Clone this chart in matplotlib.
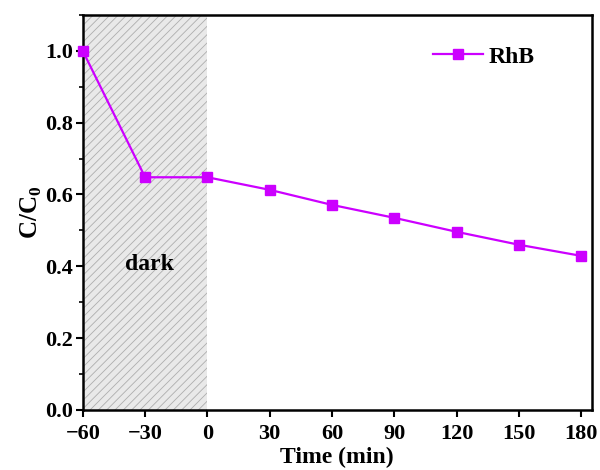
import matplotlib
matplotlib.use("Agg")
import matplotlib.pyplot as plt
from matplotlib.ticker import MultipleLocator

plt.rcParams['font.family'] = ['Liberation Serif', 'DejaVu Serif']
plt.rcParams['font.weight'] = 'bold'
plt.rcParams['mathtext.fontset'] = 'custom'
plt.rcParams['mathtext.rm'] = 'Liberation Serif:bold'
plt.rcParams['mathtext.bf'] = 'Liberation Serif:bold'
plt.rcParams['hatch.color'] = '#adadad'
plt.rcParams['hatch.linewidth'] = 0.6

time_min = [-60, -30, 0, 30, 60, 90, 120, 150, 180]
c_ratio = [1.0, 0.648, 0.648, 0.613, 0.571, 0.535, 0.496, 0.460, 0.429]
dark_span = (-60, 0)
x_ticks = [-60, -30, 0, 30, 60, 90, 120, 150, 180]
y_ticks = [0.0, 0.2, 0.4, 0.6, 0.8, 1.0]

fig = plt.figure(figsize=(6.0, 4.7), dpi=100)
ax = fig.add_axes([0.138, 0.128, 0.848, 0.840])

ax.axvspan(dark_span[0], dark_span[1], facecolor='#e9e9e9', edgecolor='#adadad',
           hatch='////', linewidth=0, zorder=0)
ax.text(-28, 0.405, 'dark', fontsize=17, fontweight='bold', ha='center', va='center')

ax.plot(time_min, c_ratio, color='#cc00ff', linewidth=1.6, marker='s',
        markersize=7.5, label='RhB', zorder=3, clip_on=False)

ax.set_xlim(-60, 185)
ax.set_ylim(0, 1.1)
ax.set_xticks(x_ticks)
ax.set_xticklabels(['\u221260', '\u221230', '0', '30', '60', '90', '120', '150', '180'])
ax.set_yticks(y_ticks)
ax.set_yticklabels([f'{v:.1f}' for v in y_ticks])
ax.yaxis.set_minor_locator(MultipleLocator(0.1))
ax.tick_params(axis='both', which='major', direction='out', length=5, width=1.5,
               labelsize=16)
ax.tick_params(axis='x', which='major', pad=5)
ax.tick_params(axis='y', which='major', pad=2)
ax.tick_params(axis='y', which='minor', direction='out', length=3, width=1.2)
for s in ax.spines.values():
    s.set_linewidth(1.8)

ax.set_xlabel('Time (min)', fontsize=17, fontweight='bold', labelpad=2)
ax.set_ylabel('C/C$_0$', fontsize=18, fontweight='bold', labelpad=1)

leg = ax.legend(loc='upper right', bbox_to_anchor=(0.93, 0.975), frameon=False,
                fontsize=17, handlelength=2.1, handletextpad=0.25)

fig.savefig('out.png', dpi=100)
